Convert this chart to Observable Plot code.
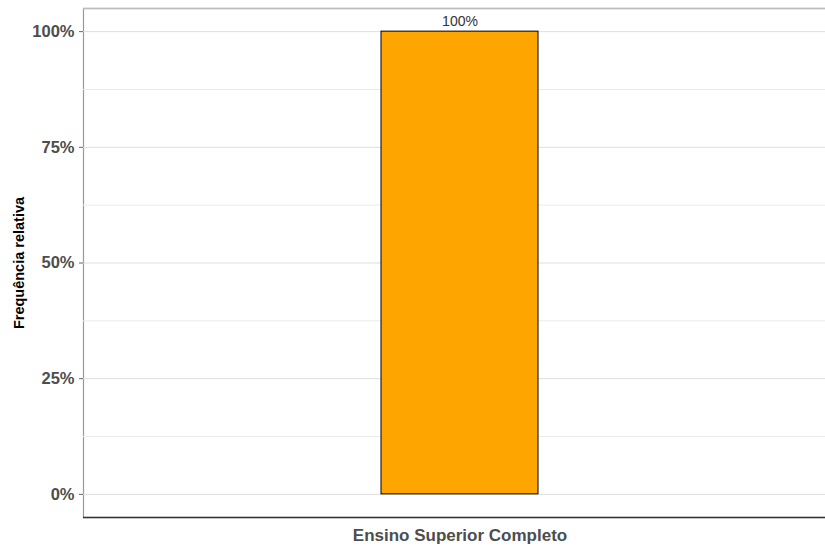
<!DOCTYPE html>
<html>
<head>
<meta charset="utf-8">
<script src="https://cdn.jsdelivr.net/npm/d3@7"></script>
<script src="https://cdn.jsdelivr.net/npm/@observablehq/plot@0.6"></script>
<style>
  html, body { margin: 0; padding: 0; background: #fff; }
  #chart svg { display: block; }
</style>
</head>
<body>
<div id="chart"></div>
<script>
const categories = ["Ensino Superior Completo"];
const values = [1.0];
const valueLabels = ["100%"];
const yTicks = [0, 0.25, 0.5, 0.75, 1];
const yMinorTicks = [0.125, 0.375, 0.625, 0.875];

const data = categories.map((c, i) => ({cat: c, value: values[i], label: valueLabels[i]}));
const font = "'Liberation Sans', Arial, sans-serif";

const chart = Plot.plot({
  width: 825,
  height: 547,
  marginLeft: 83,
  marginRight: -3,
  marginTop: 8,
  marginBottom: 30,
  style: {fontFamily: font, background: "#fff"},
  x: {domain: categories, paddingInner: 0, paddingOuter: 1.8726, align: 0.5068},
  y: {domain: [-0.05, 1.05]},
  marks: [
    Plot.frame({stroke: "#999", strokeWidth: 1.2}),
    Plot.ruleY(yMinorTicks, {stroke: "#ebebeb", strokeWidth: 1}),
    Plot.ruleY(yTicks, {stroke: "#dedede", strokeWidth: 1}),
    Plot.barY(data, {x: "cat", y: "value", fill: "#FFA500", stroke: "#000", strokeWidth: 1}),
    Plot.text(data, {x: "cat", y: "value", text: "label", dy: -10, fontSize: 14, fill: "#333", fontFamily: font}),
    Plot.axisY({
      ticks: yTicks,
      tickFormat: d => Math.round(d * 100) + "%",
      tickSize: 4,
      tickPadding: 5,
      stroke: "#666",
      fontSize: 16.5,
      fontWeight: "bold",
      fill: "#4d4d4d",
      label: "Frequência relativa",
      labelAnchor: "center",
      labelArrow: "none",
      labelOffset: 70
    }),
    Plot.axisX({
      tickSize: 0,
      tickPadding: 11,
      fontSize: 17,
      fontWeight: "bold",
      fill: "#4d4d4d",
      label: null
    }),
    Plot.ruleY([-0.05], {stroke: "#333", strokeWidth: 1.5}),
    Plot.ruleY([1.05], {stroke: "#bdbdbd", strokeWidth: 1.5})
  ]
});
document.getElementById("chart").appendChild(chart);
chart.querySelectorAll("g[aria-label='y-axis label'] text").forEach(t => {
  t.setAttribute("font-weight", "bold");
  t.setAttribute("font-size", "14.5");
  t.setAttribute("fill", "#000");
});
</script>
</body>
</html>
